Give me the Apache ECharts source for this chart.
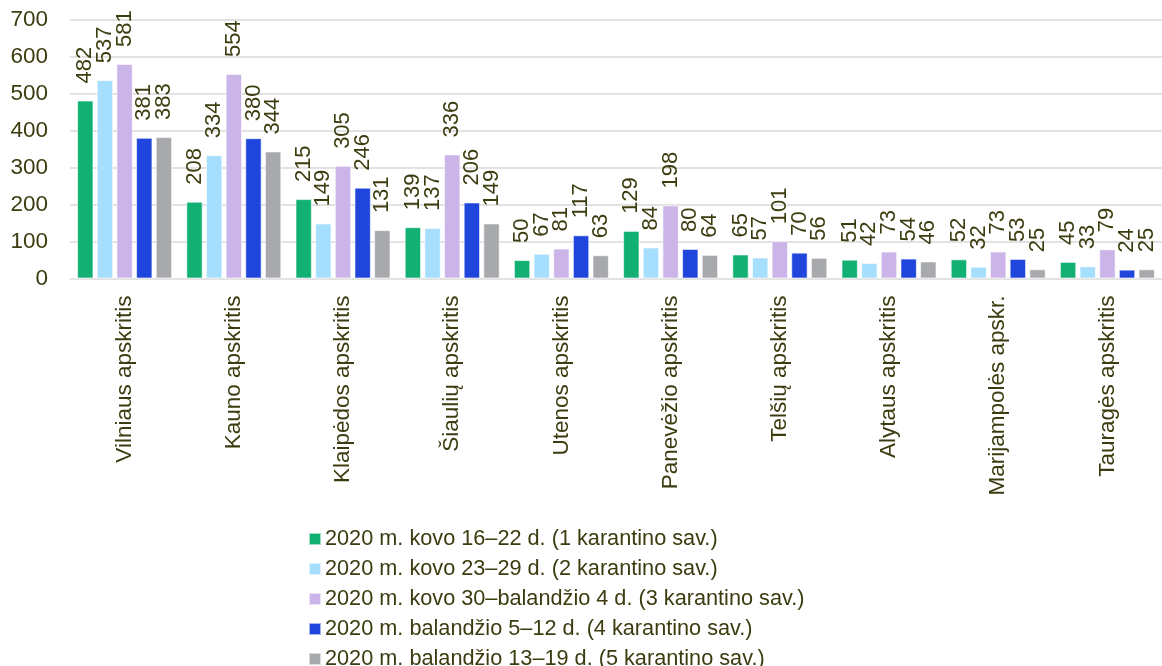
<!DOCTYPE html>
<html><head><meta charset="utf-8">
<script src="https://cdn.jsdelivr.net/npm/echarts@6/dist/echarts.min.js"></script>
<style>html,body{margin:0;padding:0;background:#fff}#c{width:1162px;height:666px}</style>
</head><body><div id="c"></div>
<script>
const categories = ["Vilniaus apskritis","Kauno apskritis","Klaipėdos apskritis","Šiaulių apskritis","Utenos apskritis","Panevėžio apskritis","Telšių apskritis","Alytaus apskritis","Marijampolės apskr.","Tauragės apskritis"];
const seriesNames = ["2020 m. kovo 16–22 d. (1 karantino sav.)","2020 m. kovo 23–29 d. (2 karantino sav.)","2020 m. kovo 30–balandžio 4 d. (3 karantino sav.)","2020 m. balandžio 5–12 d. (4 karantino sav.)","2020 m. balandžio 13–19 d. (5 karantino sav.)"];
const week1 = [482,208,215,139,50,129,65,51,52,45];
const week2 = [537,334,149,137,67,84,57,42,32,33];
const week3 = [581,554,305,336,81,198,101,73,73,79];
const week4 = [381,380,246,206,117,80,70,54,53,24];
const week5 = [383,344,131,149,63,64,56,46,25,25];
const yTicks = [0,100,200,300,400,500,600,700];
const colors = ["#12b173","#a6defd","#cbb4e8","#1f45dc","#a8a9ad"];
const textColor = "#3c3c10";
const font = "Liberation Sans, Arial, sans-serif";
const allData = [week1,week2,week3,week4,week5];
const chart = echarts.init(document.getElementById('c'));
chart.setOption({
  animation:false,
  color:colors,
  grid:{left:70,right:-4,top:20,bottom:387.5,containLabel:false},
  legend:{
    orient:'vertical',left:303,top:523,height:160,itemWidth:12,itemHeight:12,itemGap:8,
    icon:'rect',
    textStyle:{fontSize:21.7,color:textColor,fontFamily:font,padding:[0,0,0,-1]},
    data:seriesNames
  },
  xAxis:{
    type:'category',data:categories,
    axisLine:{show:false},axisTick:{show:false},
    axisLabel:{rotate:90,fontSize:22.5,color:textColor,fontFamily:font,margin:17,interval:0}
  },
  yAxis:{
    type:'value',min:yTicks[0],max:yTicks[yTicks.length-1],interval:100,
    axisLine:{show:false},axisTick:{show:false},
    splitLine:{lineStyle:{color:'#d9d9d9',width:1.5}},
    axisLabel:{fontSize:22.5,color:textColor,fontFamily:font,margin:22}
  },
  series:allData.map((d,i)=>({
    type:'bar',name:seriesNames[i],data:d,
    barGap:'20%',barCategoryGap:'13%',
    itemStyle:{borderColor:'rgba(255,255,255,0.6)',borderWidth:1},
    label:{show:true,position:'top',rotate:90,align:'left',verticalAlign:'middle',distance:17,
      fontSize:22,color:textColor,fontFamily:font}
  }))
});
</script></body></html>
